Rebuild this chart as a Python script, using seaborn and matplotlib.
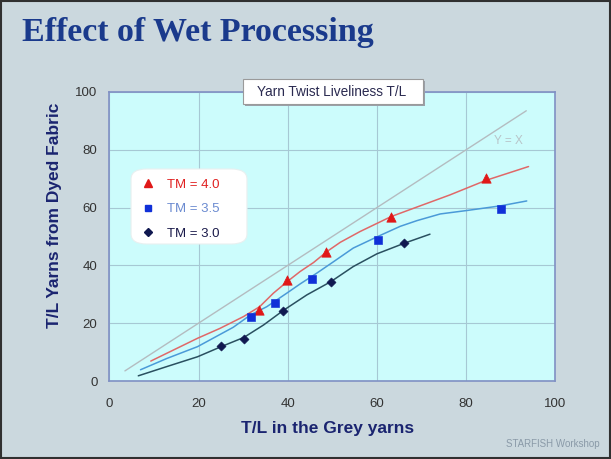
import matplotlib
matplotlib.use("Agg")
import matplotlib.pyplot as plt
from matplotlib.patches import Rectangle, FancyBboxPatch
from matplotlib.lines import Line2D
import seaborn as sns
import pandas as pd

# ---- data ----
tm40_x = [33.6, 39.8, 48.6, 63.2, 84.4]
tm40_y = [24.6, 34.9, 44.8, 56.9, 70.4]
tm35_x = [31.7, 37.2, 45.5, 60.2, 87.8]
tm35_y = [22.1, 27.0, 35.2, 48.7, 59.4]
tm30_x = [25.0, 30.2, 39.0, 49.6, 66.1]
tm30_y = [12.0, 14.4, 24.1, 34.2, 47.8]

curve40_x = [9.3, 19.8, 24.8, 30.1, 33.7, 36.8, 39.9, 42.8, 45.8, 48.8, 51.8, 56.2, 63.2, 69.7, 76.4, 84.4, 94.0]
curve40_y = [6.9, 14.8, 18.2, 22.3, 25.7, 30.4, 34.4, 37.9, 41.0, 44.8, 48.0, 51.7, 56.9, 60.6, 64.4, 69.4, 74.2]
curve35_x = [7.0, 12.9, 19.8, 27.8, 31.7, 35.3, 39.8, 42.8, 46.5, 50.3, 54.7, 60.2, 65.2, 69.0, 74.2, 80.2, 87.7, 93.6]
curve35_y = [3.9, 7.8, 11.9, 18.6, 22.9, 25.7, 30.4, 33.6, 37.3, 41.3, 46.0, 50.0, 53.5, 55.5, 57.8, 59.0, 60.6, 62.3]
curve30_x = [6.5, 12.9, 19.8, 25.1, 30.2, 34.6, 39.0, 44.3, 49.7, 54.7, 60.0, 66.2, 71.9]
curve30_y = [1.8, 5.0, 8.4, 11.9, 15.1, 19.4, 24.4, 29.8, 34.4, 39.6, 44.0, 47.7, 50.8]
yx_x = [3.5, 93.5]
yx_y = [3.5, 93.5]

labels = ["TM = 4.0", "TM = 3.5", "TM = 3.0"]
ticks = [0, 20, 40, 60, 80, 100]

# ---- styling ----
sns.set_style("white")
plt.rcParams["font.family"] = ["Liberation Sans", "DejaVu Sans"]

fig = plt.figure(figsize=(6.11, 4.59), dpi=100)
fig.patch.set_facecolor("#cbd8de")
ax = fig.add_axes([0.1789, 0.1699, 0.7299, 0.6297])
ax.set_facecolor("#ccfcfc")

c_red_pt, c_red_ln = "#e01818", "#e06868"
c_blu_pt, c_blu_ln = "#1030d8", "#4a9ad8"
c_nav_pt, c_nav_ln = "#101850", "#2a5060"

# curves
sns.lineplot(x=yx_x, y=yx_y, ax=ax, color="#b4bcc0", lw=1.0, sort=False)
sns.lineplot(x=curve40_x, y=curve40_y, ax=ax, color=c_red_ln, lw=1.1, sort=False)
sns.lineplot(x=curve35_x, y=curve35_y, ax=ax, color=c_blu_ln, lw=1.1, sort=False)
sns.lineplot(x=curve30_x, y=curve30_y, ax=ax, color=c_nav_ln, lw=1.1, sort=False)

# points
sns.scatterplot(x=tm40_x, y=tm40_y, ax=ax, marker="^", s=45, color=c_red_pt, edgecolor=c_red_pt, zorder=5)
sns.scatterplot(x=tm35_x, y=tm35_y, ax=ax, marker="s", s=30, color=c_blu_pt, edgecolor=c_blu_pt, zorder=5)
sns.scatterplot(x=tm30_x, y=tm30_y, ax=ax, marker="D", s=22, color=c_nav_pt, edgecolor=c_nav_pt, zorder=5)

ax.set_xlim(0, 100)
ax.set_ylim(0, 100)
ax.set_xticks(ticks)
ax.set_yticks(ticks)
ax.set_xticklabels([str(t) for t in ticks])
ax.set_yticklabels([str(t) for t in ticks])
ax.grid(True, color="#a6c8d4", lw=0.8)
ax.set_axisbelow(True)
for sp in ax.spines.values():
    sp.set_visible(True)
    sp.set_color("#8090c4")
    sp.set_linewidth(1.2)
ax.tick_params(axis="both", direction="out", length=4, width=0.8, color="#808080",
               labelsize=9.5, labelcolor="#333333")
ax.tick_params(axis="x", pad=8)
ax.tick_params(axis="y", pad=4.5)

ax.set_xlabel("T/L in the Grey yarns", fontsize=12.5, fontweight="bold", color="#1a2470")
ax.set_ylabel("T/L Yarns from Dyed Fabric", fontsize=12.5, fontweight="bold", color="#1a2470")
ax.xaxis.set_label_coords(0.489, -0.137)
ax.yaxis.set_label_coords(-0.106, 0.574)

ax.text(89.4, 82.9, "Y = X", fontsize=8.5, color="#b8c4c8", ha="center", va="center")

# legend box
box = FancyBboxPatch((0.0487, 0.474), 0.26, 0.2596, transform=ax.transAxes,
                     boxstyle="round,pad=0,rounding_size=0.035",
                     facecolor="white", edgecolor="#e8f0f0", lw=0.8, zorder=6)
ax.add_patch(box)
handles = [
    Line2D([], [], marker="^", ls="none", color=c_red_pt, markersize=6),
    Line2D([], [], marker="s", ls="none", color=c_blu_pt, markersize=5),
    Line2D([], [], marker="D", ls="none", color=c_nav_pt, markersize=4),
]
leg = ax.legend(handles, labels, loc="upper left", bbox_to_anchor=(0.0715, 0.70),
                frameon=False, fontsize=9.5, handlelength=1.0, handletextpad=0.95,
                labelspacing=0.92, borderaxespad=0, borderpad=0)
leg.set_zorder(7)
for txt, col in zip(leg.get_texts(), ["#e02020", "#6a8ad0", "#1a1a4a"]):
    txt.set_color(col)

# chart title box
fig.patches.append(Rectangle((245 / 611, 1 - 106 / 459), 180 / 611, 25 / 459,
                             transform=fig.transFigure, facecolor="#9aa0a8", edgecolor="none", zorder=8))
fig.patches.append(Rectangle((243 / 611, 1 - 104 / 459), 180 / 611, 25 / 459,
                             transform=fig.transFigure, facecolor="white", edgecolor="#9a9a9a", lw=0.8, zorder=9))
fig.text(332 / 611, 1 - 91.5 / 459, "Yarn Twist Liveliness T/L", fontsize=9.8, color="#2a2a50",
         ha="center", va="center", zorder=10)

# slide title and footer
fig.text(22 / 611, 1 - 41 / 459, "Effect of Wet Processing", fontsize=24.5, fontweight="bold",
         family=["Liberation Serif", "DejaVu Serif"], color="#1a3a8c", ha="left", va="baseline")
fig.text(600 / 611, 1 - 444 / 459, "STARFISH Workshop", fontsize=7, color="#8a9aa8",
         ha="right", va="center")

# outer border
fig.patches.append(Rectangle((0.001, 0.002), 0.997, 0.996, transform=fig.transFigure,
                             facecolor="none", edgecolor="#303030", lw=1.5, zorder=20))

fig.savefig("out.png", dpi=100)
